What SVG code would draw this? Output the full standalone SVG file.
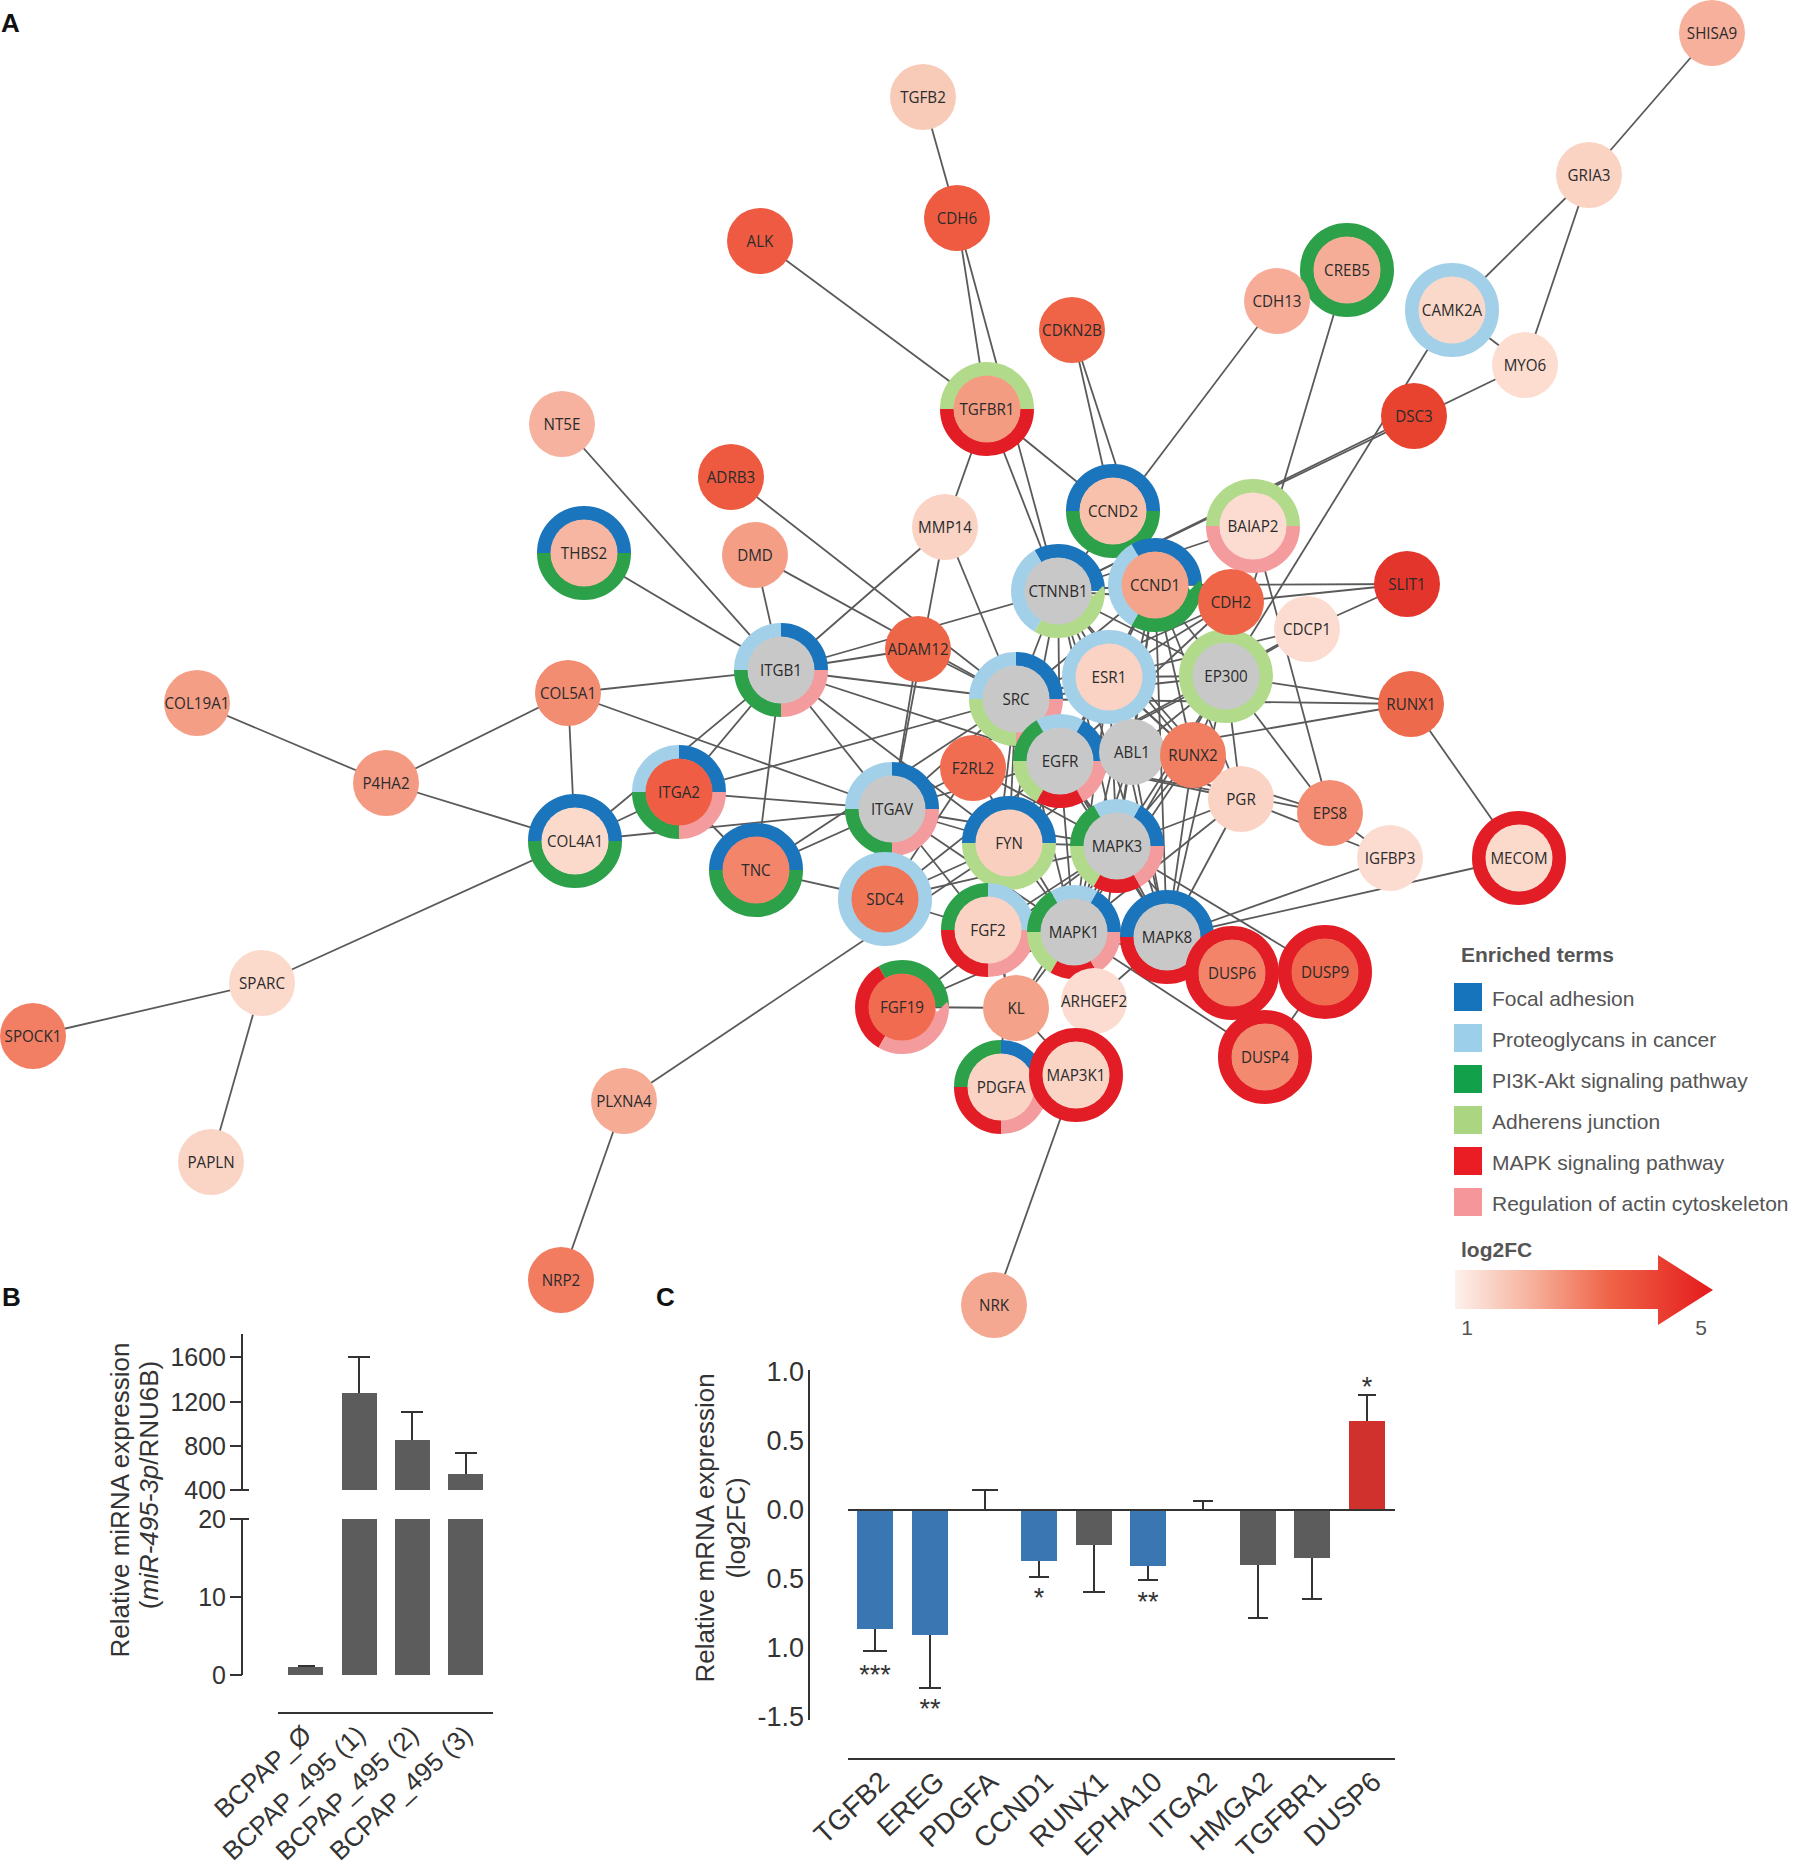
<svg xmlns="http://www.w3.org/2000/svg" xmlns:xlink="http://www.w3.org/1999/xlink" width="1799" height="1868" viewBox="0 0 1799 1868">
<style>
.e line{stroke:#5a5a5a;stroke-width:1.8}
.fa{stroke:#1b75bc}.pg{stroke:#a3d0e9}.pi{stroke:#2ca14a}.aj{stroke:#b2da8b}.mk{stroke:#e31d25}.ac{stroke:#f39b9d}
.d2{stroke-dasharray:180 180}.d3{stroke-dasharray:120 240}.d4{stroke-dasharray:90 270}.d6{stroke-dasharray:60 300}
.o60{stroke-dashoffset:-60}.o90{stroke-dashoffset:-90}.o120{stroke-dashoffset:-120}.o180{stroke-dashoffset:-180}.o240{stroke-dashoffset:-240}.o270{stroke-dashoffset:-270}.o300{stroke-dashoffset:-300}
.t{font-family:"Open Sans","Noto Sans",sans-serif;font-size:16.5px;fill:#2b2b2b;text-anchor:middle;transform:scale(0.92,1)}
.g{fill:#c8c8c8}
.lg{font-family:"Liberation Sans",Arial,sans-serif;font-size:21px;fill:#555}
.lgb{font-family:"Liberation Sans",Arial,sans-serif;font-size:21px;font-weight:bold;fill:#555}
.pl{font-family:"Liberation Sans",Arial,sans-serif;font-size:26px;font-weight:bold;fill:#111}
.ax{font-family:"Liberation Sans",Arial,sans-serif;fill:#333}
.al{stroke:#333;stroke-width:2;fill:none}
</style>
<defs>
<circle id="rg" r="40" pathLength="360" fill="none" stroke-width="14"/>
<linearGradient id="grad" gradientUnits="userSpaceOnUse" x1="1455" y1="0" x2="1713" y2="0">
<stop offset="0" stop-color="#fdf1ec"/>
<stop offset="0.3" stop-color="#f6b09b"/>
<stop offset="0.6" stop-color="#ef6447"/>
<stop offset="1" stop-color="#e41a1c"/>
</linearGradient>
</defs>
<rect width="1799" height="1868" fill="#fff"/>
<text class="pl" x="1" y="32">A</text>
<text class="pl" x="2" y="1306">B</text>
<text class="pl" x="656" y="1306">C</text>

<g id="edges" class="e">
<line x1="1712" y1="33" x2="1589" y2="175"/>
<line x1="1589" y1="175" x2="1452" y2="310"/>
<line x1="1589" y1="175" x2="1525" y2="365"/>
<line x1="1452" y1="310" x2="1525" y2="365"/>
<line x1="1452" y1="310" x2="1226" y2="676"/>
<line x1="1525" y1="365" x2="1058" y2="591"/>
<line x1="1414" y1="416" x2="1058" y2="591"/>
<line x1="1347" y1="270" x2="1226" y2="676"/>
<line x1="1277" y1="301" x2="1058" y2="591"/>
<line x1="1072" y1="330" x2="1113" y2="511"/>
<line x1="1072" y1="330" x2="1155" y2="585"/>
<line x1="923" y1="97" x2="957" y2="218"/>
<line x1="957" y1="218" x2="987" y2="409"/>
<line x1="957" y1="218" x2="1058" y2="591"/>
<line x1="760" y1="241" x2="987" y2="409"/>
<line x1="987" y1="409" x2="945" y2="527"/>
<line x1="987" y1="409" x2="1058" y2="591"/>
<line x1="987" y1="409" x2="1113" y2="511"/>
<line x1="562" y1="424" x2="781" y2="670"/>
<line x1="584" y1="553" x2="781" y2="670"/>
<line x1="755" y1="555" x2="781" y2="670"/>
<line x1="755" y1="555" x2="1016" y2="699"/>
<line x1="731" y1="477" x2="1016" y2="699"/>
<line x1="945" y1="527" x2="781" y2="670"/>
<line x1="945" y1="527" x2="892" y2="809"/>
<line x1="945" y1="527" x2="1016" y2="699"/>
<line x1="197" y1="703" x2="386" y2="783"/>
<line x1="386" y1="783" x2="568" y2="693"/>
<line x1="386" y1="783" x2="575" y2="841"/>
<line x1="568" y1="693" x2="575" y2="841"/>
<line x1="568" y1="693" x2="781" y2="670"/>
<line x1="568" y1="693" x2="892" y2="809"/>
<line x1="575" y1="841" x2="679" y2="792"/>
<line x1="575" y1="841" x2="781" y2="670"/>
<line x1="575" y1="841" x2="892" y2="809"/>
<line x1="575" y1="841" x2="262" y2="983"/>
<line x1="262" y1="983" x2="33" y2="1036"/>
<line x1="262" y1="983" x2="211" y2="1162"/>
<line x1="781" y1="670" x2="679" y2="792"/>
<line x1="781" y1="670" x2="756" y2="870"/>
<line x1="781" y1="670" x2="892" y2="809"/>
<line x1="781" y1="670" x2="918" y2="649"/>
<line x1="781" y1="670" x2="1058" y2="591"/>
<line x1="781" y1="670" x2="1016" y2="699"/>
<line x1="781" y1="670" x2="1060" y2="761"/>
<line x1="781" y1="670" x2="1009" y2="843"/>
<line x1="679" y1="792" x2="892" y2="809"/>
<line x1="679" y1="792" x2="1016" y2="699"/>
<line x1="679" y1="792" x2="756" y2="870"/>
<line x1="756" y1="870" x2="892" y2="809"/>
<line x1="756" y1="870" x2="1016" y2="699"/>
<line x1="756" y1="870" x2="885" y2="899"/>
<line x1="918" y1="649" x2="892" y2="809"/>
<line x1="918" y1="649" x2="1016" y2="699"/>
<line x1="892" y1="809" x2="1016" y2="699"/>
<line x1="892" y1="809" x2="1060" y2="761"/>
<line x1="892" y1="809" x2="1009" y2="843"/>
<line x1="892" y1="809" x2="1074" y2="932"/>
<line x1="892" y1="809" x2="1117" y2="846"/>
<line x1="892" y1="809" x2="988" y2="930"/>
<line x1="892" y1="809" x2="973" y2="768"/>
<line x1="885" y1="899" x2="988" y2="930"/>
<line x1="885" y1="899" x2="1016" y2="699"/>
<line x1="885" y1="899" x2="1060" y2="761"/>
<line x1="885" y1="899" x2="1009" y2="843"/>
<line x1="885" y1="899" x2="1117" y2="846"/>
<line x1="624" y1="1101" x2="1009" y2="843"/>
<line x1="561" y1="1280" x2="624" y2="1101"/>
<line x1="994" y1="1305" x2="1076" y2="1075"/>
<line x1="902" y1="1007" x2="1016" y2="1008"/>
<line x1="902" y1="1007" x2="1117" y2="846"/>
<line x1="902" y1="1007" x2="1074" y2="932"/>
<line x1="1016" y1="1008" x2="988" y2="930"/>
<line x1="1016" y1="1008" x2="1074" y2="932"/>
<line x1="1016" y1="1008" x2="1117" y2="846"/>
<line x1="1016" y1="1008" x2="1076" y2="1075"/>
<line x1="1001" y1="1087" x2="1009" y2="843"/>
<line x1="1094" y1="1001" x2="1167" y2="937"/>
<line x1="1094" y1="1001" x2="1117" y2="846"/>
<line x1="1074" y1="932" x2="1265" y2="1057"/>
<line x1="1117" y1="846" x2="1325" y2="972"/>
<line x1="1117" y1="846" x2="1232" y2="973"/>
<line x1="1074" y1="932" x2="1232" y2="973"/>
<line x1="1265" y1="1057" x2="1325" y2="972"/>
<line x1="1167" y1="937" x2="1390" y2="858"/>
<line x1="1167" y1="937" x2="1519" y2="858"/>
<line x1="1411" y1="704" x2="1519" y2="858"/>
<line x1="1411" y1="704" x2="1226" y2="676"/>
<line x1="1411" y1="704" x2="1016" y2="699"/>
<line x1="1411" y1="704" x2="1132" y2="752"/>
<line x1="1407" y1="584" x2="1155" y2="585"/>
<line x1="1407" y1="584" x2="1231" y2="602"/>
<line x1="1407" y1="584" x2="1307" y2="629"/>
<line x1="1253" y1="526" x2="1330" y2="813"/>
<line x1="1253" y1="526" x2="1058" y2="591"/>
<line x1="1307" y1="629" x2="1226" y2="676"/>
<line x1="1307" y1="629" x2="1016" y2="699"/>
<line x1="1307" y1="629" x2="1060" y2="761"/>
<line x1="1330" y1="813" x2="1390" y2="858"/>
<line x1="1330" y1="813" x2="1060" y2="761"/>
<line x1="1330" y1="813" x2="1132" y2="752"/>
<line x1="1330" y1="813" x2="1226" y2="676"/>
<line x1="1241" y1="799" x2="1390" y2="858"/>
<line x1="1058" y1="591" x2="1155" y2="585"/>
<line x1="1058" y1="591" x2="1016" y2="699"/>
<line x1="1058" y1="591" x2="1109" y2="677"/>
<line x1="1058" y1="591" x2="1226" y2="676"/>
<line x1="1058" y1="591" x2="1060" y2="761"/>
<line x1="1058" y1="591" x2="1231" y2="602"/>
<line x1="1058" y1="591" x2="1009" y2="843"/>
<line x1="1058" y1="591" x2="1193" y2="755"/>
<line x1="1058" y1="591" x2="1241" y2="799"/>
<line x1="1058" y1="591" x2="1132" y2="752"/>
<line x1="1058" y1="591" x2="1167" y2="937"/>
<line x1="1058" y1="591" x2="1117" y2="846"/>
<line x1="1155" y1="585" x2="1109" y2="677"/>
<line x1="1155" y1="585" x2="1226" y2="676"/>
<line x1="1155" y1="585" x2="1016" y2="699"/>
<line x1="1155" y1="585" x2="1060" y2="761"/>
<line x1="1155" y1="585" x2="1074" y2="932"/>
<line x1="1155" y1="585" x2="1117" y2="846"/>
<line x1="1155" y1="585" x2="1241" y2="799"/>
<line x1="1155" y1="585" x2="1193" y2="755"/>
<line x1="1155" y1="585" x2="1231" y2="602"/>
<line x1="1155" y1="585" x2="1167" y2="937"/>
<line x1="1155" y1="585" x2="1132" y2="752"/>
<line x1="1016" y1="699" x2="1109" y2="677"/>
<line x1="1016" y1="699" x2="1060" y2="761"/>
<line x1="1016" y1="699" x2="1132" y2="752"/>
<line x1="1016" y1="699" x2="1009" y2="843"/>
<line x1="1016" y1="699" x2="1074" y2="932"/>
<line x1="1016" y1="699" x2="1117" y2="846"/>
<line x1="1016" y1="699" x2="1231" y2="602"/>
<line x1="1016" y1="699" x2="1241" y2="799"/>
<line x1="1016" y1="699" x2="1167" y2="937"/>
<line x1="1016" y1="699" x2="1226" y2="676"/>
<line x1="1109" y1="677" x2="1226" y2="676"/>
<line x1="1109" y1="677" x2="1060" y2="761"/>
<line x1="1109" y1="677" x2="1074" y2="932"/>
<line x1="1109" y1="677" x2="1117" y2="846"/>
<line x1="1109" y1="677" x2="1241" y2="799"/>
<line x1="1109" y1="677" x2="1193" y2="755"/>
<line x1="1109" y1="677" x2="1132" y2="752"/>
<line x1="1109" y1="677" x2="1167" y2="937"/>
<line x1="1226" y1="676" x2="1193" y2="755"/>
<line x1="1226" y1="676" x2="1241" y2="799"/>
<line x1="1226" y1="676" x2="1074" y2="932"/>
<line x1="1226" y1="676" x2="1117" y2="846"/>
<line x1="1226" y1="676" x2="1167" y2="937"/>
<line x1="1226" y1="676" x2="1132" y2="752"/>
<line x1="1226" y1="676" x2="1231" y2="602"/>
<line x1="1226" y1="676" x2="1060" y2="761"/>
<line x1="1060" y1="761" x2="1132" y2="752"/>
<line x1="1060" y1="761" x2="1009" y2="843"/>
<line x1="1060" y1="761" x2="1074" y2="932"/>
<line x1="1060" y1="761" x2="1117" y2="846"/>
<line x1="1060" y1="761" x2="1167" y2="937"/>
<line x1="1060" y1="761" x2="1241" y2="799"/>
<line x1="1060" y1="761" x2="1231" y2="602"/>
<line x1="1060" y1="761" x2="988" y2="930"/>
<line x1="1132" y1="752" x2="1074" y2="932"/>
<line x1="1132" y1="752" x2="1117" y2="846"/>
<line x1="1132" y1="752" x2="1167" y2="937"/>
<line x1="1132" y1="752" x2="1009" y2="843"/>
<line x1="1132" y1="752" x2="1241" y2="799"/>
<line x1="1009" y1="843" x2="1074" y2="932"/>
<line x1="1009" y1="843" x2="1117" y2="846"/>
<line x1="1074" y1="932" x2="1117" y2="846"/>
<line x1="1074" y1="932" x2="1167" y2="937"/>
<line x1="1117" y1="846" x2="1167" y2="937"/>
<line x1="1074" y1="932" x2="988" y2="930"/>
<line x1="1117" y1="846" x2="988" y2="930"/>
<line x1="1193" y1="755" x2="1074" y2="932"/>
<line x1="1193" y1="755" x2="1117" y2="846"/>
<line x1="1241" y1="799" x2="1074" y2="932"/>
<line x1="1241" y1="799" x2="1117" y2="846"/>
<line x1="1241" y1="799" x2="1167" y2="937"/>
<line x1="973" y1="768" x2="1074" y2="932"/>
<line x1="973" y1="768" x2="1117" y2="846"/>
<line x1="973" y1="768" x2="1016" y2="699"/>
<line x1="1231" y1="602" x2="1109" y2="677"/>
<line x1="988" y1="930" x2="1009" y2="843"/>
<line x1="1167" y1="937" x2="1193" y2="755"/>
<line x1="988" y1="930" x2="1016" y2="699"/>
</g>

<g id="nodes">
<g id="n-SHISA9" transform="translate(1712,33)"><circle r="33" fill="#f6b09b"/><text class="t" y="6">SHISA9</text></g>
<g id="n-GRIA3" transform="translate(1589,175)"><circle r="33" fill="#fad3c3"/><text class="t" y="6">GRIA3</text></g>
<g id="n-TGFB2" transform="translate(923,97)"><circle r="33" fill="#f8cbb9"/><text class="t" y="6">TGFB2</text></g>
<g id="n-CDH6" transform="translate(957,218)"><circle r="33" fill="#ef5b40"/><text class="t" y="6">CDH6</text></g>
<g id="n-ALK" transform="translate(760,241)"><circle r="33" fill="#ee5b42"/><text class="t" y="6">ALK</text></g>
<g id="n-CREB5" transform="translate(1347,270)"><use href="#rg" class="pi"/><circle r="33.5" fill="#f6ad98"/><text class="t" y="6">CREB5</text></g>
<g id="n-CDH13" transform="translate(1277,301)"><circle r="33" fill="#f6ac97"/><text class="t" y="6">CDH13</text></g>
<g id="n-CAMK2A" transform="translate(1452,310)"><use href="#rg" class="pg"/><circle r="33.5" fill="#fad8ca"/><text class="t" y="6">CAMK2A</text></g>
<g id="n-CDKN2B" transform="translate(1072,330)"><circle r="33" fill="#ef6347"/><text class="t" y="6">CDKN2B</text></g>
<g id="n-MYO6" transform="translate(1525,365)"><circle r="33" fill="#fcddd0"/><text class="t" y="6">MYO6</text></g>
<g id="n-TGFBR1" transform="translate(987,409)"><use href="#rg" class="aj d2 o180"/><use href="#rg" class="mk d2"/><circle r="33.5" fill="#f49c82"/><text class="t" y="6">TGFBR1</text></g>
<g id="n-DSC3" transform="translate(1414,416)"><circle r="33" fill="#e8432e"/><text class="t" y="6">DSC3</text></g>
<g id="n-NT5E" transform="translate(562,424)"><circle r="33" fill="#f7b29f"/><text class="t" y="6">NT5E</text></g>
<g id="n-ADRB3" transform="translate(731,477)"><circle r="33" fill="#ee5a40"/><text class="t" y="6">ADRB3</text></g>
<g id="n-MMP14" transform="translate(945,527)"><circle r="33" fill="#fad3c4"/><text class="t" y="6">MMP14</text></g>
<g id="n-THBS2" transform="translate(584,553)"><use href="#rg" class="fa d2 o180"/><use href="#rg" class="pi d2"/><circle r="33.5" fill="#f7b6a2"/><text class="t" y="6">THBS2</text></g>
<g id="n-DMD" transform="translate(755,555)"><circle r="33" fill="#f49e86"/><text class="t" y="6">DMD</text></g>
<g id="n-COL19A1" transform="translate(197,703)"><circle r="33" fill="#f59e86"/><text class="t" y="6">COL19A1</text></g>
<g id="n-COL5A1" transform="translate(568,693)"><circle r="33" fill="#f38d72"/><text class="t" y="6">COL5A1</text></g>
<g id="n-P4HA2" transform="translate(386,783)"><circle r="33" fill="#f59a82"/><text class="t" y="6">P4HA2</text></g>
<g id="n-SPARC" transform="translate(262,983)"><circle r="33" fill="#fbd9cb"/><text class="t" y="6">SPARC</text></g>
<g id="n-SPOCK1" transform="translate(33,1036)"><circle r="33" fill="#f27f64"/><text class="t" y="6">SPOCK1</text></g>
<g id="n-PAPLN" transform="translate(211,1162)"><circle r="33" fill="#fad4c5"/><text class="t" y="6">PAPLN</text></g>
<g id="n-PLXNA4" transform="translate(624,1101)"><circle r="33" fill="#f6ab95"/><text class="t" y="6">PLXNA4</text></g>
<g id="n-NRP2" transform="translate(561,1280)"><circle r="33" fill="#f27c60"/><text class="t" y="6">NRP2</text></g>
<g id="n-NRK" transform="translate(994,1305)"><circle r="33" fill="#f5a891"/><text class="t" y="6">NRK</text></g>
<g id="n-COL4A1" transform="translate(575,841)"><use href="#rg" class="fa d2 o180"/><use href="#rg" class="pi d2"/><circle r="33.5" fill="#fbd9cb"/><text class="t" y="6">COL4A1</text></g>
<g id="n-ITGB1" transform="translate(781,670)"><use href="#rg" class="fa d4 o270"/><use href="#rg" class="pg d4 o180"/><use href="#rg" class="pi d4 o90"/><use href="#rg" class="ac d4"/><circle r="33.5" class="g"/><text class="t" y="6">ITGB1</text></g>
<g id="n-ADAM12" transform="translate(918,649)"><circle r="33" fill="#ee6648"/><text class="t" y="6">ADAM12</text></g>
<g id="n-ITGA2" transform="translate(679,792)"><use href="#rg" class="fa d4 o270"/><use href="#rg" class="pg d4 o180"/><use href="#rg" class="pi d4 o90"/><use href="#rg" class="ac d4"/><circle r="33.5" fill="#ef5e44"/><text class="t" y="6">ITGA2</text></g>
<g id="n-TNC" transform="translate(756,870)"><use href="#rg" class="fa d2 o180"/><use href="#rg" class="pi d2"/><circle r="33.5" fill="#f3856a"/><text class="t" y="6">TNC</text></g>
<g id="n-ITGAV" transform="translate(892,809)"><use href="#rg" class="fa d4 o270"/><use href="#rg" class="pg d4 o180"/><use href="#rg" class="pi d4 o90"/><use href="#rg" class="ac d4"/><circle r="33.5" class="g"/><text class="t" y="6">ITGAV</text></g>
<g id="n-SDC4" transform="translate(885,899)"><use href="#rg" class="pg"/><circle r="33.5" fill="#f07658"/><text class="t" y="6">SDC4</text></g>
<g id="n-CCND2" transform="translate(1113,511)"><use href="#rg" class="fa d2 o180"/><use href="#rg" class="pi d2"/><circle r="33.5" fill="#f8c1ac"/><text class="t" y="6">CCND2</text></g>
<g id="n-CTNNB1" transform="translate(1058,591)"><use href="#rg" class="fa d3 o240"/><use href="#rg" class="pg d3 o120"/><use href="#rg" class="aj d3"/><circle r="33.5" class="g"/><text class="t" y="6">CTNNB1</text></g>
<g id="n-CCND1" transform="translate(1155,585)"><use href="#rg" class="fa d3 o240"/><use href="#rg" class="pg d3 o120"/><use href="#rg" class="pi d3"/><circle r="33.5" fill="#f5a48c"/><text class="t" y="6">CCND1</text></g>
<g id="n-BAIAP2" transform="translate(1253,526)"><use href="#rg" class="aj d2 o180"/><use href="#rg" class="ac d2"/><circle r="33.5" fill="#fcdcd0"/><text class="t" y="6">BAIAP2</text></g>
<g id="n-EP300" transform="translate(1226,676)"><use href="#rg" class="aj"/><circle r="33.5" class="g"/><text class="t" y="6">EP300</text></g>
<g id="n-CDH2" transform="translate(1231,602)"><circle r="33" fill="#ef6548"/><text class="t" y="6">CDH2</text></g>
<g id="n-CDCP1" transform="translate(1307,629)"><circle r="33" fill="#fcdcd0"/><text class="t" y="6">CDCP1</text></g>
<g id="n-SLIT1" transform="translate(1407,584)"><circle r="33" fill="#e3352b"/><text class="t" y="6">SLIT1</text></g>
<g id="n-ESR1" transform="translate(1109,677)"><use href="#rg" class="pg"/><circle r="33.5" fill="#fad3c4"/><text class="t" y="6">ESR1</text></g>
<g id="n-SRC" transform="translate(1016,699)"><use href="#rg" class="fa d4 o270"/><use href="#rg" class="pg d4 o180"/><use href="#rg" class="aj d4 o90"/><use href="#rg" class="ac d4"/><circle r="33.5" class="g"/><text class="t" y="6">SRC</text></g>
<g id="n-F2RL2" transform="translate(973,768)"><circle r="33" fill="#f06d52"/><text class="t" y="6">F2RL2</text></g>
<g id="n-EGFR" transform="translate(1060,761)"><use href="#rg" class="fa d6 o300"/><use href="#rg" class="pg d6 o240"/><use href="#rg" class="pi d6 o180"/><use href="#rg" class="aj d6 o120"/><use href="#rg" class="mk d6 o60"/><use href="#rg" class="ac d6"/><circle r="33.5" class="g"/><text class="t" y="6">EGFR</text></g>
<g id="n-ABL1" transform="translate(1132,752)"><circle r="33" class="g"/><text class="t" y="6">ABL1</text></g>
<g id="n-RUNX2" transform="translate(1193,755)"><circle r="33" fill="#f27e62"/><text class="t" y="6">RUNX2</text></g>
<g id="n-PGR" transform="translate(1241,799)"><circle r="33" fill="#fad3c4"/><text class="t" y="6">PGR</text></g>
<g id="n-EPS8" transform="translate(1330,813)"><circle r="33" fill="#f38c72"/><text class="t" y="6">EPS8</text></g>
<g id="n-IGFBP3" transform="translate(1390,858)"><circle r="33" fill="#fcdcd0"/><text class="t" y="6">IGFBP3</text></g>
<g id="n-RUNX1" transform="translate(1411,704)"><circle r="33" fill="#ee6a4c"/><text class="t" y="6">RUNX1</text></g>
<g id="n-MECOM" transform="translate(1519,858)"><use href="#rg" class="mk"/><circle r="33.5" fill="#fbd9cb"/><text class="t" y="6">MECOM</text></g>
<g id="n-FYN" transform="translate(1009,843)"><use href="#rg" class="fa d2 o180"/><use href="#rg" class="aj d2"/><circle r="33.5" fill="#f9cfbf"/><text class="t" y="6">FYN</text></g>
<g id="n-MAPK3" transform="translate(1117,846)"><use href="#rg" class="fa d6 o300"/><use href="#rg" class="pg d6 o240"/><use href="#rg" class="pi d6 o180"/><use href="#rg" class="aj d6 o120"/><use href="#rg" class="mk d6 o60"/><use href="#rg" class="ac d6"/><circle r="33.5" class="g"/><text class="t" y="6">MAPK3</text></g>
<g id="n-FGF2" transform="translate(988,930)"><use href="#rg" class="pg d4 o270"/><use href="#rg" class="pi d4 o180"/><use href="#rg" class="mk d4 o90"/><use href="#rg" class="ac d4"/><circle r="33.5" fill="#fad3c4"/><text class="t" y="6">FGF2</text></g>
<g id="n-MAPK1" transform="translate(1074,932)"><use href="#rg" class="fa d6 o300"/><use href="#rg" class="pg d6 o240"/><use href="#rg" class="pi d6 o180"/><use href="#rg" class="aj d6 o120"/><use href="#rg" class="mk d6 o60"/><use href="#rg" class="ac d6"/><circle r="33.5" class="g"/><text class="t" y="6">MAPK1</text></g>
<g id="n-ARHGEF2" transform="translate(1094,1001)"><circle r="33" fill="#fcdcd0"/><text class="t" y="6">ARHGEF2</text></g>
<g id="n-MAPK8" transform="translate(1167,937)"><use href="#rg" class="fa d2 o180"/><use href="#rg" class="mk d2"/><circle r="33.5" class="g"/><text class="t" y="6">MAPK8</text></g>
<g id="n-DUSP6" transform="translate(1232,973)"><use href="#rg" class="mk"/><circle r="33.5" fill="#f3846a"/><text class="t" y="6">DUSP6</text></g>
<g id="n-DUSP9" transform="translate(1325,972)"><use href="#rg" class="mk"/><circle r="33.5" fill="#ef6a4e"/><text class="t" y="6">DUSP9</text></g>
<g id="n-DUSP4" transform="translate(1265,1057)"><use href="#rg" class="mk"/><circle r="33.5" fill="#f38a70"/><text class="t" y="6">DUSP4</text></g>
<g id="n-FGF19" transform="translate(902,1007)"><use href="#rg" class="pi d3 o240"/><use href="#rg" class="mk d3 o120"/><use href="#rg" class="ac d3"/><circle r="33.5" fill="#f06b4f"/><text class="t" y="6">FGF19</text></g>
<g id="n-KL" transform="translate(1016,1008)"><circle r="33" fill="#f5a28a"/><text class="t" y="6">KL</text></g>
<g id="n-PDGFA" transform="translate(1001,1087)"><use href="#rg" class="fa d4 o270"/><use href="#rg" class="pi d4 o180"/><use href="#rg" class="mk d4 o90"/><use href="#rg" class="ac d4"/><circle r="33.5" fill="#fad3c4"/><text class="t" y="6">PDGFA</text></g>
<g id="n-MAP3K1" transform="translate(1076,1075)"><use href="#rg" class="mk"/><circle r="33.5" fill="#fad5c6"/><text class="t" y="6">MAP3K1</text></g>
</g>

<g id="legend">
<text class="lgb" x="1461" y="962">Enriched terms</text>
<rect x="1454" y="983" width="28" height="28" fill="#1574bc"/>
<rect x="1454" y="1024" width="28" height="28" fill="#9ccfea"/>
<rect x="1454" y="1065" width="28" height="28" fill="#13a04b"/>
<rect x="1454" y="1106" width="28" height="28" fill="#abd581"/>
<rect x="1454" y="1147" width="28" height="28" fill="#ea1c24"/>
<rect x="1454" y="1188" width="28" height="28" fill="#f4969a"/>
<text class="lg" x="1492" y="1006">Focal adhesion</text>
<text class="lg" x="1492" y="1047">Proteoglycans in cancer</text>
<text class="lg" x="1492" y="1088">PI3K-Akt signaling pathway</text>
<text class="lg" x="1492" y="1129">Adherens junction</text>
<text class="lg" x="1492" y="1170">MAPK signaling pathway</text>
<text class="lg" x="1492" y="1211">Regulation of actin cytoskeleton</text>
<text class="lgb" x="1461" y="1257">log2FC</text>
<polygon points="1455,1270 1658,1270 1658,1255 1713,1290 1658,1325 1658,1309 1455,1309" fill="url(#grad)"/>
<text class="lg" x="1467" y="1335" text-anchor="middle" font-size="20">1</text>
<text class="lg" x="1701" y="1335" text-anchor="middle" font-size="20">5</text>
</g>

<g id="panelB">
<path class="al" d="M242,1334V1490M242,1519V1675M230,1357H242M230,1402H242M230,1446H242M230,1490H249M230,1519H249M230,1597H242M230,1675H242"/>
<g class="ax" font-size="25" text-anchor="end">
<text x="226" y="1366">1600</text>
<text x="226" y="1411">1200</text>
<text x="226" y="1455">800</text>
<text x="226" y="1499">400</text>
<text x="226" y="1528">20</text>
<text x="226" y="1606">10</text>
<text x="226" y="1684">0</text>
</g>
<g fill="#5c5c5c">
<rect x="288" y="1667" width="35" height="8"/>
<rect x="342" y="1393" width="35" height="97"/>
<rect x="342" y="1519" width="35" height="156"/>
<rect x="395" y="1440" width="35" height="50"/>
<rect x="395" y="1519" width="35" height="156"/>
<rect x="448" y="1474" width="35" height="16"/>
<rect x="448" y="1519" width="35" height="156"/>
</g>
<path class="al" d="M298,1666H315M359,1393V1357M348,1357H370M412,1440V1412M401,1412H423M466,1474V1453M455,1453H477M278,1713H493"/>
<g class="ax" font-size="26" text-anchor="end">
<text transform="translate(313,1737) rotate(-43)">BCPAP_Ø</text>
<text transform="translate(367,1737) rotate(-43)">BCPAP_495 (1)</text>
<text transform="translate(420,1737) rotate(-43)">BCPAP_495 (2)</text>
<text transform="translate(474,1737) rotate(-43)">BCPAP_495 (3)</text>
</g>
<g class="ax" font-size="26" text-anchor="middle">
<text transform="translate(129,1500) rotate(-90)">Relative miRNA expression</text>
<text transform="translate(158,1485) rotate(-90)">(<tspan font-style="italic">miR-495-3p</tspan>/RNU6B)</text>
</g>
</g>

<g id="panelC">
<path class="al" d="M809,1370V1720"/>
<g class="ax" font-size="27" text-anchor="end">
<text x="804" y="1381">1.0</text>
<text x="804" y="1450">0.5</text>
<text x="804" y="1519">0.0</text>
<text x="804" y="1588">0.5</text>
<text x="804" y="1657">1.0</text>
<text x="804" y="1726">-1.5</text>
</g>
<rect x="857" y="1510" width="36" height="119" fill="#3a76b1"/>
<rect x="912" y="1510" width="36" height="125" fill="#3a76b1"/>
<rect x="1021" y="1510" width="36" height="51" fill="#3a76b1"/>
<rect x="1076" y="1510" width="36" height="35" fill="#5c5c5c"/>
<rect x="1130" y="1510" width="36" height="56" fill="#3a76b1"/>
<rect x="1240" y="1510" width="36" height="55" fill="#5c5c5c"/>
<rect x="1294" y="1510" width="36" height="48" fill="#5c5c5c"/>
<rect x="1349" y="1421" width="36" height="89" fill="#d0312d"/>
<path class="al" d="M848,1510H1395M848,1759H1395M875,1629V1651M863,1651H887M930,1635V1688M919,1688H941M985,1510V1490M972,1490H998M1039,1561V1577M1029,1577H1049M1094,1545V1592M1083,1592H1105M1148,1566V1580M1138,1580H1158M1203,1510V1501M1193,1501H1213M1258,1565V1618M1248,1618H1268M1312,1558V1599M1302,1599H1322M1367,1421V1395M1358,1395H1376"/>
<g class="ax" font-size="27" text-anchor="middle">
<text x="875" y="1684">***</text>
<text x="930" y="1718">**</text>
<text x="1039" y="1607">*</text>
<text x="1148" y="1611">**</text>
<text x="1367" y="1396">*</text>
</g>
<g class="ax" font-size="28" text-anchor="end">
<text transform="translate(891,1784) rotate(-43)">TGFB2</text>
<text transform="translate(946,1784) rotate(-43)">EREG</text>
<text transform="translate(1000,1784) rotate(-43)">PDGFA</text>
<text transform="translate(1055,1784) rotate(-43)">CCND1</text>
<text transform="translate(1110,1784) rotate(-43)">RUNX1</text>
<text transform="translate(1164,1784) rotate(-43)">EPHA10</text>
<text transform="translate(1219,1784) rotate(-43)">ITGA2</text>
<text transform="translate(1274,1784) rotate(-43)">HMGA2</text>
<text transform="translate(1328,1784) rotate(-43)">TGFBR1</text>
<text transform="translate(1383,1784) rotate(-43)">DUSP6</text>
</g>
<g class="ax" font-size="26" text-anchor="middle">
<text transform="translate(714,1528) rotate(-90)">Relative mRNA expression</text>
<text transform="translate(745,1528) rotate(-90)">(log2FC)</text>
</g>
</g>
</svg>
